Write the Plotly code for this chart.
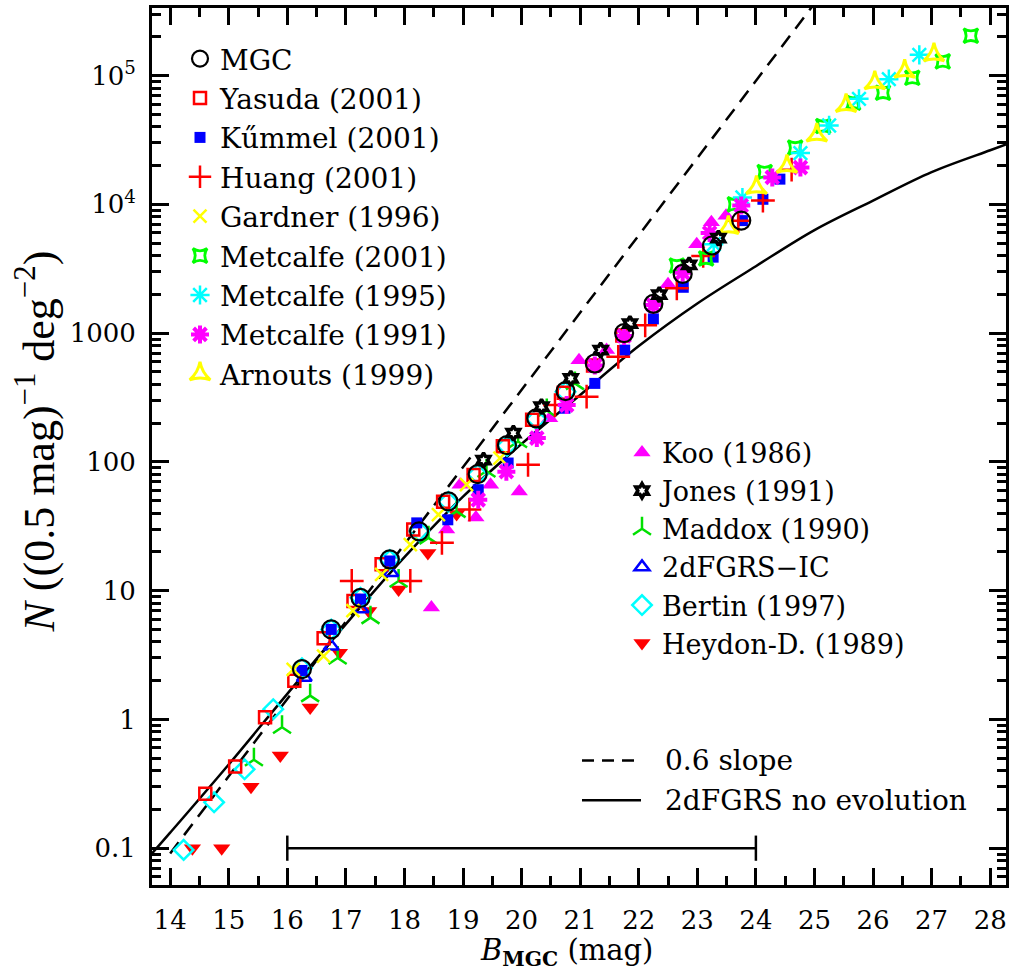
import plotly.graph_objects as go

# ---------------- data ----------------
MGC_m = [16.25, 16.75, 17.25, 17.75, 18.25, 18.75, 19.25, 19.75, 20.25, 20.75, 21.25, 21.75, 22.25, 22.75, 23.25, 23.75]
MGC_N = [2.46, 5.0, 8.8, 17.5, 28.9, 49.4, 80.4, 135, 218, 355, 581, 1000, 1690, 2885, 4790, 7480]

Yasuda_m = [14.60, 15.11, 15.62, 16.12, 16.62, 17.13, 17.61, 18.15, 18.66, 19.18, 19.68, 20.18, 20.72, 21.22, 21.72]
Yasuda_N = [0.265, 0.43, 1.04, 2.0, 4.27, 8.3, 16, 29.8, 49, 79, 132, 212, 345, 560, 960]

Kummel_m = [16.25, 16.75, 17.25, 17.75, 18.21, 18.74, 19.26, 19.77, 20.25, 20.74, 21.25, 21.76, 22.25, 22.76, 23.27, 23.77, 24.12, 24.41]
Kummel_N = [2.4, 5.0, 8.6, 17, 33.6, 35.5, 60.8, 98, 155, 261, 407, 738, 1290, 2270, 3890, 7480, 10950, 15700]

Huang_m = [17.10, 18.10, 18.64, 19.11, 20.11, 20.57, 21.11, 21.65, 22.11, 22.65, 23.10, 23.70, 24.12, 24.61]
Huang_N = [11.9, 11.9, 23.5, 42.6, 95, 276, 321, 655, 1150, 2230, 3980, 7450, 10700, 18600]

Gardner_m = [16.10, 16.62, 17.12, 17.61, 18.10, 18.58, 19.06, 19.63]
Gardner_N = [2.45, 3.1, 7.0, 13.4, 22.8, 39, 66.5, 107]

Metcalfe01_m = [22.65, 23.15, 23.64, 24.15, 24.67, 25.15, 25.66, 26.17, 26.67, 27.19, 27.67]
Metcalfe01_N = [3350, 3800, 10000, 17800, 27600, 40600, 61700, 73600, 96200, 129000, 204000]

Metcalfe95_m = [23.28, 23.77, 24.76, 25.25, 25.76, 26.27, 26.79]
Metcalfe95_N = [4900, 11300, 25000, 41000, 66000, 93800, 145000]

Metcalfe91_m = [19.26, 19.74, 20.26, 20.77, 21.25, 21.75, 22.25, 22.75, 23.21, 23.75, 24.28, 24.76]
Metcalfe91_N = [50.7, 84, 153, 276, 560, 950, 1650, 2950, 6000, 9800, 16200, 19300]

Arnouts_m = [23.53, 24.01, 24.53, 25.04, 25.54, 26.03, 26.54, 27.04]
Arnouts_N = [6600, 13500, 19700, 34500, 58600, 87900, 108000, 145000]

Koo_m = [18.46, 18.72, 18.95, 19.22, 19.47, 19.96, 20.48, 20.98, 21.45, 22.50, 22.99, 23.24, 23.49]
Koo_N = [7.4, 29.8, 66.5, 37, 66.5, 59, 218, 615, 738, 2400, 4900, 7260, 8150]

Jones_m = [19.35, 19.86, 20.34, 20.84, 21.35, 21.85, 22.35, 22.86, 23.36]
Jones_N = [103, 167, 269, 445, 738, 1186, 1990, 3390, 5460]

Maddox_m = [15.43, 15.91, 16.39, 16.86, 17.42, 17.90, 18.41, 18.89, 19.40, 19.94, 20.43, 20.91]
Maddox_N = [0.486, 0.87, 1.53, 3.0, 6.17, 11.9, 25.7, 41.3, 85, 144, 251, 407]

TwodF_m = [16.29, 16.75, 17.26, 17.77]
TwodF_N = [2.12, 3.7, 7.2, 13.8]

Bertin_m = [14.23, 14.75, 15.27, 15.76, 16.25, 16.75, 17.25, 17.75, 18.25, 18.75, 19.25, 19.75, 20.25, 20.75]
Bertin_N = [0.097, 0.227, 0.41, 1.2, 2.5, 5.0, 8.8, 17.3, 29, 49, 80, 133, 215, 350]

Heydon_m = [14.38, 14.88, 15.38, 15.88, 16.39, 16.89, 17.39, 17.90, 18.40, 18.89]
Heydon_N = [0.1, 0.1, 0.30, 0.525, 1.24, 3.3, 6.95, 10.2, 19.6, 39.4]

# model curves
noevo_m = [13.69, 14, 15, 16, 17, 18, 19, 20, 21, 22, 23, 24, 25, 26, 27, 28, 28.27]
noevo_N = [0.091, 0.132, 0.447, 1.58, 5.5, 18.2, 53.7, 138, 331, 794, 1700, 3310, 6310, 10700, 17800, 26300, 29200]

slope_m = [14.0, 25.0]
slope_N = [0.091, 363000]

# magnitude range bar
bar_m = [16, 24]
bar_N = [0.1, 0.1]

# axis ticks
X_RANGE = [13.69, 28.27]
Y_RANGE = [-1.286, 5.525]
ytick_vals = [0.1, 1, 10, 100, 1000, 1e4, 1e5]
ytick_text = ["0.1", "1", "10", "100", "1000", "10<sup>4</sup>", "10<sup>5</sup>"]
yminor_vals = [k * 10.0 ** d for d in range(-2, 6) for k in range(2, 10)]
xminor_vals = [13.5 + i for i in range(16)]

# ---------------- figure ----------------
FONT = "DejaVu Serif"
fig = go.Figure()

def add(name, xs, ys, symbol, color, size, lw=2.5, legend="legend", rank=1):
    marker = dict(symbol=symbol, size=size, color=color, line=dict(color=color, width=lw))
    fig.add_trace(go.Scatter(x=xs, y=ys, mode="markers", name=name, marker=marker,
                             legend=legend, legendrank=rank))

# model lines
fig.add_trace(go.Scatter(x=noevo_m, y=noevo_N, mode="lines", line=dict(color="black", width=2.5, shape="spline"),
                         showlegend=False, hoverinfo="skip"))
fig.add_trace(go.Scatter(x=slope_m, y=slope_N, mode="lines", line=dict(color="black", width=2.5, dash="14px,9px"),
                         showlegend=False, hoverinfo="skip"))
# magnitude-range bar, drawn on the (identical) overlay axes that carry the minor ticks
fig.add_trace(go.Scatter(x=bar_m, y=bar_N, xaxis="x2", yaxis="y2", mode="lines+markers",
                         line=dict(color="black", width=2.5),
                         marker=dict(symbol="line-ns-open", size=18, line=dict(color="black", width=2.5)),
                         showlegend=False, hoverinfo="skip"))

# legend 2 series
add("Koo (1986)", Koo_m, Koo_N, "triangle-up", "#ff00ff", 15, lw=0, legend="legend2", rank=1)
add("Heydon-D. (1989)", Heydon_m, Heydon_N, "triangle-down", "#ff0000", 15, lw=0, legend="legend2", rank=6)
add("Maddox (1990)", Maddox_m, Maddox_N, "y-up-open", "#00e000", 15, lw=2.5, legend="legend2", rank=3)
add("2dFGRS\u2212IC", TwodF_m, TwodF_N, "triangle-up-open", "#0000ff", 13, lw=2.5, legend="legend2", rank=4)
add("Bertin (1997)", Bertin_m, Bertin_N, "diamond-open", "#00ffff", 15, lw=2.5, legend="legend2", rank=5)

# legend 1 series
add("Yasuda (2001)", Yasuda_m, Yasuda_N, "square-open", "#ff0000", 12, lw=2.5, rank=2)
add("K\u0171mmel (2001)", Kummel_m, Kummel_N, "square", "#0000ff", 11, lw=0, rank=3)
add("Huang (2001)", Huang_m, Huang_N, "cross-thin-open", "#ff0000", 17, lw=2.5, rank=4)
add("Gardner (1996)", Gardner_m, Gardner_N, "x-thin-open", "#ffff00", 13, lw=2.5, rank=5)
add("Metcalfe (2001)", Metcalfe01_m, Metcalfe01_N, "star-square-open", "#00ff00", 13, lw=2.8, rank=6)
add("Metcalfe (1995)", Metcalfe95_m, Metcalfe95_N, "asterisk-open", "#00ffff", 16, lw=2.5, rank=7)
add("Metcalfe (1991)", Metcalfe91_m, Metcalfe91_N, "asterisk-open", "#ff00ff", 15, lw=4, rank=8)
add("Arnouts (1999)", Arnouts_m, Arnouts_N, "star-triangle-up-open", "#ffff00", 15, lw=3, rank=9)
add("Jones (1991)", Jones_m, Jones_N, "hexagram-open", "#000000", 11, lw=3.5, legend="legend2", rank=2)
add("MGC", MGC_m, MGC_N, "circle-open", "#000000", 18, lw=2.2, rank=1)

axis_common = dict(showline=True, linewidth=3, linecolor="black", mirror="ticks", ticks="inside",
                   ticklen=17, tickwidth=2.8, tickcolor="black", showgrid=False, zeroline=False,
                   tickfont=dict(family=FONT, size=26, color="black"))
minor_common = dict(showline=True, linewidth=3, linecolor="black", mirror="ticks", ticks="inside",
                    ticklen=9, tickwidth=2.5, tickcolor="black", showgrid=False, zeroline=False,
                    showticklabels=False, tickmode="array")

W, H = 1017, 970
L, R, T, B = 152, 11, 5, 85
pw, ph = W - L - R, H - T - B

def px(x):
    return (x - L) / pw

def py(y):
    return (H - B - y) / ph

fig.update_layout(
    width=W, height=H, margin=dict(l=L, r=R, t=T, b=B),
    plot_bgcolor="white", paper_bgcolor="white",
    font=dict(family=FONT, size=26, color="black"),
    xaxis=dict(range=X_RANGE, tick0=14, dtick=1, ticklabelstandoff=10, **axis_common),
    yaxis=dict(type="log", range=Y_RANGE, tickvals=ytick_vals, ticktext=ytick_text,
               ticklabelstandoff=8, **axis_common),
    xaxis2=dict(range=X_RANGE, overlaying="x", anchor="y2", side="bottom", tickvals=xminor_vals, **minor_common),
    yaxis2=dict(type="log", range=Y_RANGE, overlaying="y", anchor="x2", side="left", tickvals=yminor_vals,
                **minor_common),
    legend=dict(x=px(180), y=py(31), xanchor="left", yanchor="top", bgcolor="rgba(0,0,0,0)",
                font=dict(family=FONT, size=28, color="black"), tracegroupgap=0, itemclick=False),
    legend2=dict(x=px(622), y=py(427), xanchor="left", yanchor="top", bgcolor="rgba(0,0,0,0)",
                 font=dict(family=FONT, size=27, color="black"), tracegroupgap=0, itemclick=False),
    annotations=[
        dict(text="<i>N</i> ((0.5 mag)<sup>\u22121</sup> deg<sup>\u22122</sup>)", xref="paper", yref="paper",
             x=px(36), y=py(440), xanchor="center", yanchor="middle", textangle=-90, showarrow=False,
             font=dict(family="Liberation Serif", size=44, color="black")),
        dict(text="<i>B</i><sub><b>MGC</b></sub> (mag)", xref="paper", yref="paper",
             x=px(566), y=py(931), xanchor="center", yanchor="top", showarrow=False,
             font=dict(family=FONT, size=29, color="black")),
        dict(text="0.6 slope", xref="paper", yref="paper", x=px(663), y=py(760), xanchor="left",
             yanchor="middle", showarrow=False, font=dict(family=FONT, size=28, color="black")),
        dict(text="2dFGRS no evolution", xref="paper", yref="paper", x=px(663), y=py(800), xanchor="left",
             yanchor="middle", showarrow=False, font=dict(family=FONT, size=28, color="black")),
    ],
    shapes=[
        dict(type="line", xref="paper", yref="paper", x0=px(582), x1=px(641), y0=py(760), y1=py(760),
             line=dict(color="black", width=2.5, dash="12px,8px")),
        dict(type="line", xref="paper", yref="paper", x0=px(582), x1=px(641), y0=py(800), y1=py(800),
             line=dict(color="black", width=2.5)),
    ],
)

fig.write_html("out.html")
